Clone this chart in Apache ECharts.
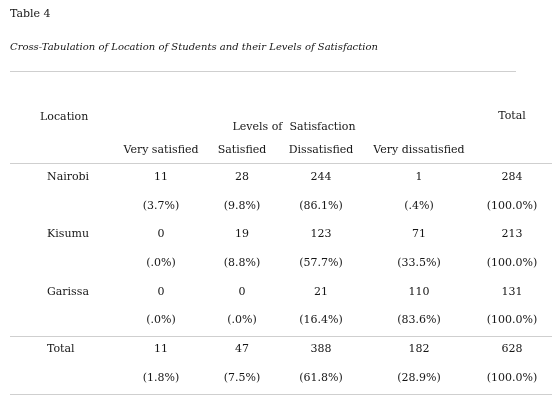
<!DOCTYPE html>
<html><head><meta charset="utf-8">
<script src="https://cdn.jsdelivr.net/npm/echarts@6/dist/echarts.min.js"></script>
<style>html,body{margin:0;padding:0;background:#fff}#c{width:559px;height:404px}</style>
</head><body><div id="c"></div>
<script>
// ---- data ----
const tableLabel = 'Table 4';
const tableTitle = 'Cross-Tabulation of Location of Students and their Levels of Satisfaction';
const locations = ['Nairobi', 'Kisumu', 'Garissa', 'Total'];
const levels = ['Very satisfied', 'Satisfied', 'Dissatisfied', 'Very dissatisfied'];
const veryCount = [11, 0, 0, 11];
const satCount = [28, 19, 0, 47];
const disCount = [244, 123, 21, 388];
const veryDisCount = [1, 71, 110, 182];
const totalCount = [284, 213, 131, 628];
const veryPct = [3.7, 0.0, 0.0, 1.8];
const satPct = [9.8, 8.8, 0.0, 7.5];
const disPct = [86.1, 57.7, 16.4, 61.8];
const veryDisPct = [0.4, 33.5, 83.6, 28.9];
const totalPct = [100.0, 100.0, 100.0, 100.0];

// ---- layout (styling) ----
const FONT = 'DejaVu Serif';
const FS = 11;
const INK = '#161616';
const colX = [161, 242, 321, 419, 512];
const labelX = 47;
const rowY0 = 177, rowStep = 28.71;

const countCols = [veryCount, satCount, disCount, veryDisCount, totalCount];
const pctCols = [veryPct, satPct, disPct, veryDisPct, totalPct];
const fmtPct = v => '(' + v.toFixed(1).replace(/^0/, '') + '%)';

const centerCells = [];
const leftCells = [];
locations.forEach((loc, r) => {
  const yc = rowY0 + rowStep * (2 * r);
  const yp = rowY0 + rowStep * (2 * r + 1);
  leftCells.push([labelX, yc, loc]);
  countCols.forEach((col, c) => centerCells.push([colX[c], yc, String(col[r])]));
  pctCols.forEach((col, c) => centerCells.push([colX[c], yp, fmtPct(col[r])]));
});
levels.forEach((lv, c) => centerCells.push([colX[c], 150, lv]));
centerCells.push([294, 127, 'Levels of  Satisfaction']);
centerCells.push([colX[4], 116, 'Total']);
leftCells.push([40, 117, 'Location']);

const labelStyle = { show: true, position: 'inside', color: INK, opacity: 1, fontFamily: FONT, fontSize: FS,
  formatter: p => p.data[2] };

const chart = echarts.init(document.getElementById('c'), null, { renderer: 'canvas' });
const hline = (y, x1, x2) => ({ type: 'line', shape: { x1, y1: y, x2, y2: y },
  style: { stroke: '#cfcfcf', lineWidth: 1 }, silent: true });
chart.setOption({
  animation: false,
  backgroundColor: '#fff',
  title: [
    { text: tableLabel, left: 10, top: 9, padding: 0, textStyle: { fontFamily: FONT, fontSize: 11, fontWeight: 'normal', color: INK } },
    { text: tableTitle, left: 10, top: 42, padding: 0, textStyle: { fontFamily: FONT, fontSize: 10, fontStyle: 'italic', fontWeight: 'normal', color: INK } }
  ],
  grid: { left: 0, right: 0, top: 0, bottom: 0 },
  xAxis: { type: 'value', min: 0, max: 559, show: false },
  yAxis: { type: 'value', min: 0, max: 404, inverse: true, show: false },
  graphic: [hline(71.5, 10, 516), hline(163.5, 10, 552), hline(336.5, 10, 552), hline(394.5, 10, 552)],
  series: [
    { type: 'scatter', data: centerCells, symbolSize: 1, itemStyle: { color: 'rgba(0,0,0,0)', opacity: 1 },
      label: Object.assign({}, labelStyle, { align: 'center', verticalAlign: 'middle' }) },
    { type: 'scatter', data: leftCells, symbolSize: 1, itemStyle: { color: 'rgba(0,0,0,0)', opacity: 1 },
      label: Object.assign({}, labelStyle, { align: 'left', verticalAlign: 'middle' }) }
  ]
});
</script></body></html>
